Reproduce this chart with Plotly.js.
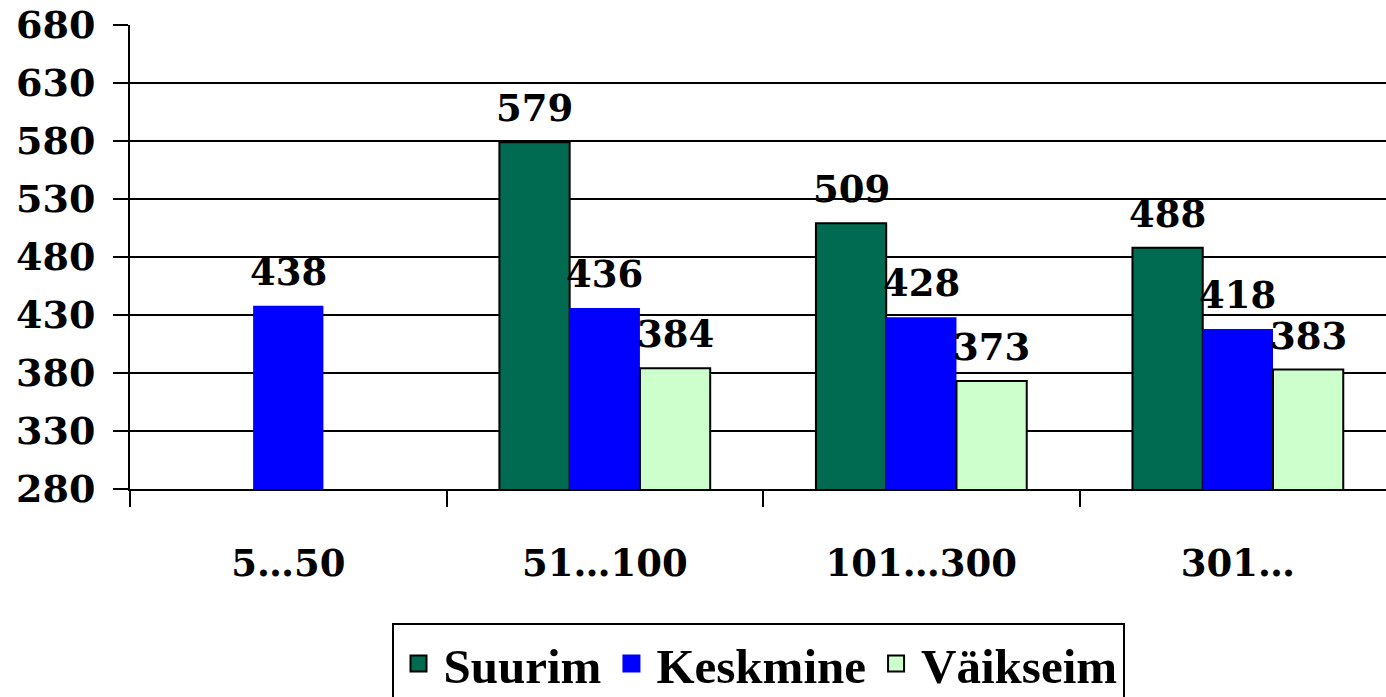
<!DOCTYPE html>
<html>
<head>
<meta charset="utf-8">
<script src="https://cdn.plot.ly/plotly-3.0.1.min.js"></script>
<style>html,body{margin:0;padding:0;background:#fff;}#chart{width:1386px;height:697px;}</style>
</head>
<body>
<div id="chart"></div>
<script>
const categories = ["5…50", "51…100", "101…300", "301…"];
const seriesNames = ["Suurim", "Keskmine", "Väikseim"];
const suurim = [null, 579, 509, 488];
const keskmine = [438, 436, 428, 418];
const vaikseim = [null, 384, 373, 383];
const yTicks = [280, 330, 380, 430, 480, 530, 580, 630, 680];

const seriesValues = [suurim, keskmine, vaikseim];
const colors = ["#006B50", "#0000FF", "#CCFFCC"];
const lineColors = ["#000000", "#0000FF", "#000000"];

const W = 1386, H = 697;
const margin = {l: 130, r: 0, t: 25, b: 208, autoexpand: false};
const xRange = [-0.5, 3.468];
const bargap = 0.334;
const plotW = W - margin.l - margin.r;
const catPx = plotW / (xRange[1] - xRange[0]);
const barPx = catPx * (1 - bargap) / 3;

const serifNum = {family: "DejaVu Serif", size: 37, color: "#000", weight: "bold"};
const serifTick = {family: "DejaVu Serif", size: 38, color: "#000", weight: "bold"};

const traces = seriesValues.map((vals, i) => ({
  type: "bar",
  name: seriesNames[i],
  x: categories,
  y: vals,
  showlegend: false,
  marker: {color: colors[i], line: {color: lineColors[i], width: i === 1 ? 0 : 2}},
  hoverinfo: "none"
}));

// legend entries (larger square symbols than bar legend glyphs)
seriesNames.forEach((name, i) => {
  traces.push({
    type: "scatter", mode: "markers", name: name,
    x: [null], y: [null], showlegend: true, hoverinfo: "none",
    marker: {symbol: "square", size: 16, color: colors[i],
             line: {color: i === 1 ? colors[i] : "#000", width: 2}}
  });
});

const annotations = [];
seriesValues.forEach((vals, i) => {
  vals.forEach((v, j) => {
    if (v === null) return;
    annotations.push({
      x: categories[j], y: v, xref: "x", yref: "y",
      text: String(v), showarrow: false,
      xanchor: "center", yanchor: "bottom",
      xshift: (i - 1) * barPx, yshift: 10,
      font: serifNum
    });
  });
});

const layout = {
  width: W, height: H,
  margin: margin,
  paper_bgcolor: "#fff", plot_bgcolor: "#fff",
  barmode: "group", bargap: bargap, bargroupgap: 0,
  showlegend: true,
  legend: {
    orientation: "h", x: 0.5, xanchor: "center", y: -0.289, yanchor: "top",
    bordercolor: "#000", borderwidth: 2, bgcolor: "#fff",
    font: {family: "Liberation Serif", size: 49, color: "#000", weight: "bold"},
    itemsizing: "trace", tracegroupgap: 0, itemwidth: 40
  },
  xaxis: {
    type: "category", range: xRange, tickson: "boundaries",
    ticks: "outside", ticklen: 16, tickwidth: 2, tickcolor: "#000",
    showline: true, linecolor: "#000", linewidth: 2,
    showgrid: false, zeroline: false,
    tickfont: serifNum, ticklabelstandoff: 41, fixedrange: true
  },
  yaxis: {
    range: [280, 680], tickmode: "array", tickvals: yTicks, ticktext: yTicks.map(String),
    ticks: "outside", ticklen: 15, tickwidth: 2, tickcolor: "#000",
    showline: true, linecolor: "#000", linewidth: 2,
    showgrid: true, gridcolor: "#000", gridwidth: 2.5, zeroline: false,
    tickfont: serifTick, ticklabelstandoff: 10, fixedrange: true
  },
  annotations: annotations
};

Plotly.newPlot("chart", traces, layout, {displayModeBar: false, staticPlot: true});
</script>
</body>
</html>
